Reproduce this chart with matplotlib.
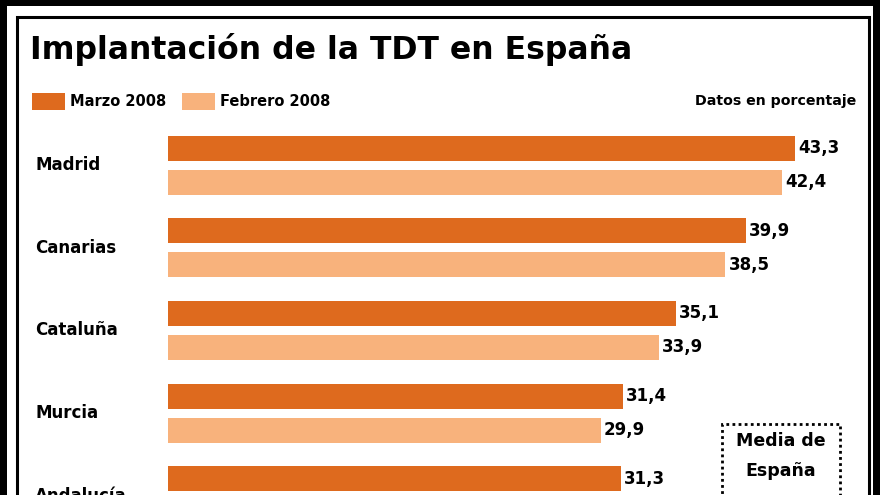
import numpy as np
import matplotlib
matplotlib.use("Agg")
import matplotlib.pyplot as plt
from matplotlib.patches import Rectangle

# data (Andalucia febrero is cut off in the source)
regions = ["Madrid", "Canarias", "Cataluña", "Murcia", "Andalucía"]
marzo = [43.3, 39.9, 35.1, 31.4, 31.3]
febrero = [42.4, 38.5, 33.9, 29.9, np.nan]
series_labels = ["Marzo 2008", "Febrero 2008"]

col_marzo = "#DE6A1E"
col_feb = "#F8B27C"
FONT = "DejaVu Sans"

W, H = 880, 495
fig = plt.figure(figsize=(W / 100, H / 100), dpi=100, facecolor="black")


def fx(x):
    return x / W


def fy(y):
    return 1 - y / H


# white page + inner frame line
fig.patches.append(Rectangle((fx(7), fy(H + 20)), fx(873) - fx(7), fy(6) - fy(H + 20),
                             transform=fig.transFigure, facecolor="white",
                             edgecolor="none", zorder=-2))
fig.patches.append(Rectangle((fx(16.5), fy(H + 20)), fx(868.5) - fx(16.5), fy(16.5) - fy(H + 20),
                             transform=fig.transFigure, facecolor="none",
                             edgecolor="black", lw=2.2, zorder=-1))

# axes: px 168..860 horizontally, 120..495 vertically
ax = fig.add_axes([fx(168), fy(495), fx(860) - fx(168), fy(120) - fy(495)])
ax.set_facecolor("none")
unit = 82.7  # px per group
scale = 14.48  # px per percent
ax.set_xlim(0, (860 - 168) / scale)
top = -(165 - 120) / unit
ax.set_ylim(top + 375 / unit, top)
ax.axis("off")

y = np.arange(len(regions))
off = 17 / unit
bh = 25 / unit
ax.barh(y - off, marzo, height=bh, color=col_marzo, left=0)
ax.barh(y + off, febrero, height=bh, color=col_feb, left=0)

for i in range(len(regions)):
    for v, yy in ((marzo[i], y[i] - off), (febrero[i], y[i] + off)):
        if np.isnan(v):
            continue
        ax.text(v + 0.2, yy, f"{v:.1f}".replace(".", ","), ha="left", va="center",
                fontsize=12, family=FONT, fontweight="bold", clip_on=False)
    fig.text(fx(35), fy(120 + (y[i] - top) * unit), regions[i], ha="left", va="center",
             fontsize=12, family=FONT, fontweight="bold")

# title and legend
fig.text(fx(30), fy(50), "Implantación de la TDT en España", ha="left", va="center",
         fontsize=22.7, family=FONT, fontweight="bold")
for sx, tx, c, lab in ((32, 70, col_marzo, series_labels[0]), (182, 220, col_feb, series_labels[1])):
    fig.patches.append(Rectangle((fx(sx), fy(110)), fx(33), fy(93) - fy(110),
                                 transform=fig.transFigure, facecolor=c, edgecolor="none"))
    fig.text(fx(tx), fy(101), lab, ha="left", va="center", fontsize=10.5,
             family=FONT, fontweight="bold")
fig.text(fx(856), fy(101), "Datos en porcentaje", ha="right", va="center", fontsize=10.2,
         family=FONT, fontweight="bold")

# Media de España box
fig.patches.append(Rectangle((fx(722), fy(H + 20)), fx(840) - fx(722), fy(424) - fy(H + 20),
                             transform=fig.transFigure, facecolor="none", edgecolor="black",
                             lw=2, linestyle=(0, (1, 1.2))))
fig.text(fx(781), fy(441), "Media de", ha="center", va="center", fontsize=12.5,
         family=FONT, fontweight="bold")
fig.text(fx(781), fy(471), "España", ha="center", va="center", fontsize=12.5,
         family=FONT, fontweight="bold")

fig.savefig("out.png", dpi=100, facecolor="black")
